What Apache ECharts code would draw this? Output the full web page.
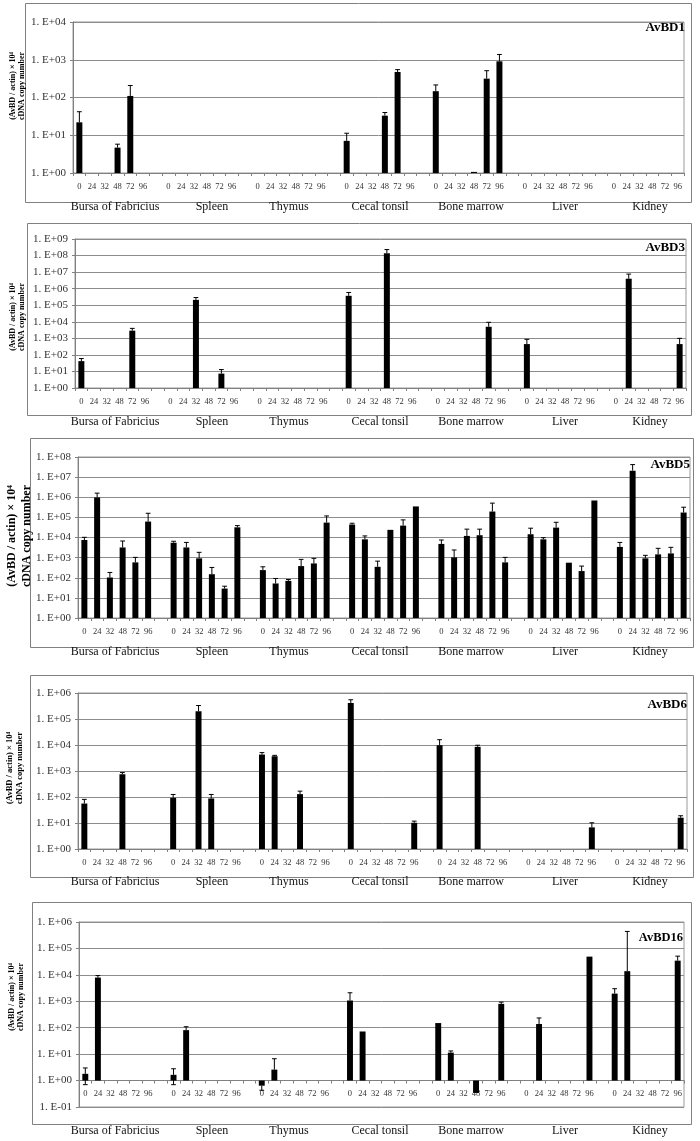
<!DOCTYPE html>
<html><head><meta charset="utf-8">
<script src="https://cdn.jsdelivr.net/npm/echarts@6/dist/echarts.min.js"></script>
<style>html,body{margin:0;padding:0;background:#fff}#c{width:700px;height:1141px}</style>
</head><body><div id="c"></div>
<script>
const N = null;
const tissues = ['Bursa of Fabricius', 'Spleen', 'Thymus', 'Cecal tonsil', 'Bone marrow', 'Liver', 'Kidney'];
const hours = ['0', '24', '32', '48', '72', '96'];

// values: 7 tissues x 6 time points (0,24,32,48,72,96 h)
const avbd1Mean = [
  22, N, N, 4.7, 110, N,
  N, N, N, N, N, N,
  N, N, N, N, N, N,
  7.1, N, N, 33, 475, N,
  147, N, N, 1.07, 316, 910,
  N, N, N, N, N, N,
  N, N, N, N, N, N];
const avbd1ErrHigh = [
  42, N, N, 5.8, 208, N,
  N, N, N, N, N, N,
  N, N, N, N, N, N,
  11.3, N, N, 40, 548, N,
  215, N, N, N, 513, 1380,
  N, N, N, N, N, N,
  N, N, N, N, N, N];

const avbd3Mean = [
  42, N, N, N, 2900, N,
  N, N, 2.1e5, N, 7.4, N,
  N, N, N, N, N, N,
  3.7e5, N, N, 1.4e8, N, N,
  N, N, N, N, 5000, N,
  450, N, N, N, N, N,
  N, 4.0e6, N, N, N, 450];
const avbd3ErrHigh = [
  60, N, N, N, 4000, N,
  N, N, 2.9e5, N, 13, N,
  N, N, N, N, N, N,
  5.9e5, N, N, 2.3e8, N, N,
  N, N, N, N, 9300, N,
  870, N, N, N, N, N,
  N, 7.6e6, N, N, N, 1000];

const avbd5Mean = [
  7500, 9.8e5, 103, 3200, 580, 62000,
  5500, 3200, 920, 150, 29, 32000,
  240, 52, 70, 380, 515, 55000,
  44000, 8100, 350, 24000, 39000, 3.5e5,
  4800, 1030, 12000, 13000, 1.95e5, 580,
  14500, 8100, 31000, 560, 215, 6.9e5,
  3400, 2.1e7, 920, 1450, 1620, 1.74e5];
const avbd5ErrHigh = [
  10200, 1.6e6, 183, 6700, 1030, 1.6e5,
  6500, 5700, 1830, 325, 38, 39000,
  350, 92, 82, 820, 920, 1.18e5,
  51000, 12000, 670, N, 75000, N,
  7500, 2400, 26000, 26000, 5.1e5, 1030,
  29000, 9800, 57000, N, 380, N,
  5700, 4.2e7, 1300, 2900, 3250, 3.2e5];

const avbd6Mean = [
  56, N, N, 750, N, N,
  93, N, 2.0e5, 88, N, N,
  4300, 3700, N, 129, N, N,
  4.1e5, N, N, N, N, 10.2,
  9800, N, N, 8500, N, N,
  N, N, N, N, N, 6.8,
  N, N, N, N, N, 16];
const avbd6ErrHigh = [
  81, N, N, 870, N, N,
  125, N, 3.3e5, 125, N, N,
  5100, 4000, N, 168, N, N,
  5.5e5, N, N, N, N, 11.8,
  16000, N, N, 9800, N, N,
  N, N, N, N, N, 10.2,
  N, N, N, N, N, 19];

const avbd16Mean = [
  1.8, 7900, N, N, N, N,
  1.65, 81, N, N, N, N,
  0.64, 2.6, N, N, N, N,
  1070, 72, N, N, N, N,
  150, 11.4, N, 0.34, N, 800,
  N, 138, N, N, N, 49000,
  1950, 13800, N, N, N, 34500];
const avbd16ErrHigh = [
  3.0, 9400, N, N, N, N,
  2.8, 109, N, N, N, N,
  N, 6.7, N, N, N, N,
  2100, N, N, N, N, N,
  N, 13.2, N, N, N, 930,
  N, 234, N, N, N, N,
  3000, 4.4e5, N, N, N, 51000];
const avbd16ErrLow = [
  0.7, N, N, N, N, N,
  0.7, N, N, N, N, N,
  0.43, N, N, N, N, N,
  N, N, N, N, N, N,
  N, N, N, N, N, N,
  N, N, N, N, N, N,
  N, N, N, N, N, N];

const geneNames = ['AvBD1', 'AvBD3', 'AvBD5', 'AvBD6', 'AvBD16'];
const yMinMax = [[1, 1e4], [1, 1e9], [1, 1e8], [1, 1e6], [0.1, 1e6]];

// ---------- layout ----------
const SERIF = '"Liberation Serif","Times New Roman",serif';
const panels = [
  {grid: [73, 22, 684, 173], box: [25, 3, 691, 202], title: [685, 28, 13], ytitle: [17, 86, 8, 9], groupY: 207},
  {grid: [75, 239, 686, 388], box: [27, 223, 691, 415], title: [685, 248, 13], ytitle: [17, 317, 8, 9], groupY: 422},
  {grid: [78, 457, 690, 618], box: [30, 438, 693, 647], title: [690, 465, 13], ytitle: [19, 536, 12, 15], groupY: 652},
  {grid: [78, 693, 687, 849], box: [30, 675, 693, 877], title: [687, 705, 13], ytitle: [15, 768, 8.5, 10], groupY: 882},
  {grid: [79, 922, 684, 1107], box: [32, 902, 691, 1124], title: [683, 938, 12.5], ytitle: [16, 997, 8, 9], groupY: 1131}
];
const groupLabelX = [115, 212, 289, 380, 471, 565, 650];

const means = [avbd1Mean, avbd3Mean, avbd5Mean, avbd6Mean, avbd16Mean];
const errHighs = [avbd1ErrHigh, avbd3ErrHigh, avbd5ErrHigh, avbd6ErrHigh, avbd16ErrHigh];
const errLows = [null, null, null, null, avbd16ErrLow];

const xCats = [];
tissues.forEach((t, g) => {
  hours.forEach(h => xCats.push(h));
  if (g < tissues.length - 1) xCats.push('');
});

function toData(mean, hi, lo) {
  const d = [];
  mean.forEach((v, i) => {
    if (v == null) return;
    const g = Math.floor(i / hours.length), t = i % hours.length;
    d.push([g * (hours.length + 1) + t, v, (hi && hi[i] != null) ? hi[i] : 0, (lo && lo[i] != null) ? lo[i] : 0]);
  });
  return d;
}

function fmtLog(v) {
  const e = Math.round(Math.log10(v));
  return '1. E' + (e < 0 ? '-' : '+') + String(Math.abs(e)).padStart(2, '0');
}

function renderItem(params, api) {
  const slot = api.value(0), v = api.value(1), hi = api.value(2), lo = api.value(3);
  const base = api.coord([slot, 1]);
  const top = api.coord([slot, v]);
  const bw = api.size([1, 0], [slot, v])[0] * 0.47;
  const cap = bw * 0.8;
  const ch = [{
    type: 'rect',
    shape: {x: base[0] - bw / 2, y: Math.min(base[1], top[1]), width: bw, height: Math.abs(base[1] - top[1])},
    style: {fill: '#000'}
  }];
  [hi, lo].forEach(e => {
    if (e > 0) {
      const p = api.coord([slot, e]);
      ch.push({type: 'line', shape: {x1: top[0], y1: top[1], x2: p[0], y2: p[1]}, style: {stroke: '#000', lineWidth: 1}});
      ch.push({type: 'line', shape: {x1: p[0] - cap / 2, y1: p[1], x2: p[0] + cap / 2, y2: p[1]}, style: {stroke: '#000', lineWidth: 1}});
    }
  });
  return {type: 'group', children: ch};
}

const grids = [], xAxes = [], yAxes = [], series = [], graphics = [];
panels.forEach((P, i) => {
  const [l, t, r, b] = P.grid;
  const h = b - t;
  grids.push({left: l, top: t, width: r - l, height: h, show: true, borderColor: '#9a9a9a', borderWidth: 1, backgroundColor: 'transparent'});
  const decades = Math.round(Math.log10(yMinMax[i][1] / yMinMax[i][0]));
  const baseOffset = yMinMax[i][0] < 1 ? -(h / decades) * Math.log10(1 / yMinMax[i][0]) : 0;
  xAxes.push({
    type: 'category', gridIndex: i, data: xCats, boundaryGap: true, offset: baseOffset,
    axisLine: {show: true, lineStyle: {color: '#808080', width: 1}},
    axisTick: {show: true, interval: 0, length: 3, lineStyle: {color: '#808080'}},
    axisLabel: {interval: 0, fontSize: 8.5, fontFamily: SERIF, color: '#333', margin: 9},
    splitLine: {show: false}
  });
  yAxes.push({
    type: 'log', logBase: 10, gridIndex: i, min: yMinMax[i][0], max: yMinMax[i][1], splitNumber: decades,
    axisLine: {show: true, lineStyle: {color: '#808080', width: 1}},
    axisTick: {show: true, length: 3, lineStyle: {color: '#808080'}},
    minorTick: {show: false},
    splitLine: {show: true, lineStyle: {color: '#8c8c8c', width: 1}},
    axisLabel: {formatter: fmtLog, fontSize: 11, fontFamily: SERIF, color: '#333', margin: 7}
  });
  series.push({
    type: 'custom', coordinateSystem: 'cartesian2d', xAxisIndex: i, yAxisIndex: i,
    encode: {x: 0, y: 1}, renderItem: renderItem, silent: true, clip: false,
    data: toData(means[i], errHighs[i], errLows[i])
  });
  const [bl, bt, br, bb] = P.box;
  graphics.push({type: 'rect', shape: {x: bl + 0.5, y: bt + 0.5, width: br - bl, height: bb - bt}, style: {fill: 'none', stroke: '#808080', lineWidth: 1}, z: 0});
  graphics.push({type: 'text', x: P.title[0], y: P.title[1], style: {text: geneNames[i], font: 'bold ' + P.title[2] + 'px ' + SERIF, fill: '#000', align: 'right', verticalAlign: 'middle'}, z: 10});
  graphics.push({type: 'text', x: P.ytitle[0], y: P.ytitle[1], rotation: Math.PI / 2,
    style: {text: '(AvBD / actin) \u00d7 10\u2074\ncDNA copy number', font: 'bold ' + P.ytitle[2] + 'px ' + SERIF, lineHeight: P.ytitle[3], fill: '#000', align: 'center', verticalAlign: 'middle'}, z: 10});
  tissues.forEach((name, g) => {
    graphics.push({type: 'text', x: groupLabelX[g], y: P.groupY, style: {text: name, font: '12px ' + SERIF, fill: '#111', align: 'center', verticalAlign: 'middle'}, z: 10});
  });
});

const chart = echarts.init(document.getElementById('c'), null, {renderer: 'canvas'});
chart.setOption({
  animation: false,
  backgroundColor: '#fff',
  grid: grids, xAxis: xAxes, yAxis: yAxes, series: series,
  graphic: {elements: graphics}
});
</script></body></html>
